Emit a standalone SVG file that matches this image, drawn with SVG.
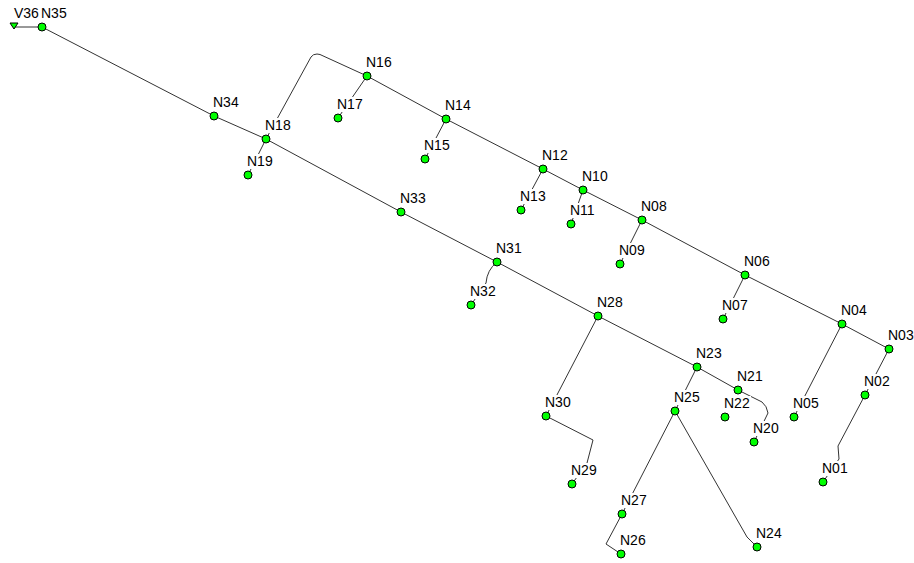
<svg xmlns="http://www.w3.org/2000/svg" width="914" height="563" viewBox="0 0 914 563">
<style>
.pipe{fill:none;stroke:#333;stroke-width:1}
.nd{fill:#00ff00;stroke:#000;stroke-width:1}
.bg{fill:#fff}
.lbl{font-family:"Liberation Sans",Arial,sans-serif;font-size:14px;fill:#000}
</style>
<rect width="914" height="563" fill="#fff"/>
<g id="connectors">
<path class="pipe" d="M14,27 L42,27"/>
<path class="pipe" d="M42,27 L214,116"/>
<path class="pipe" d="M214,116 L266,139"/>
<path class="pipe" d="M266,139 L248,175"/>
<path class="pipe" d="M266,139 L311,57 Q313,54 317,54 L320,54.5 L367,76"/>
<path class="pipe" d="M367,76 L338,118"/>
<path class="pipe" d="M367,76 L446,119"/>
<path class="pipe" d="M446,119 L425,159"/>
<path class="pipe" d="M446,119 L543,169"/>
<path class="pipe" d="M543,169 L521,210"/>
<path class="pipe" d="M543,169 L583,190"/>
<path class="pipe" d="M583,190 L571,224"/>
<path class="pipe" d="M583,190 L642,220"/>
<path class="pipe" d="M642,220 L620,264"/>
<path class="pipe" d="M642,220 L745,275"/>
<path class="pipe" d="M745,275 L723,319"/>
<path class="pipe" d="M745,275 L842,324"/>
<path class="pipe" d="M842,324 L794,417"/>
<path class="pipe" d="M842,324 L889,349"/>
<path class="pipe" d="M889,349 L865,395"/>
<path class="pipe" d="M865,395 L838,446 L839,459 L823,482"/>
<path class="pipe" d="M266,139 L401,212"/>
<path class="pipe" d="M401,212 L497,262"/>
<path class="pipe" d="M497,262 Q487,270 486,283 L471,305"/>
<path class="pipe" d="M497,262 L598,316"/>
<path class="pipe" d="M598,316 L546,416"/>
<path class="pipe" d="M546,416 L593,440 L587,463 L572,484"/>
<path class="pipe" d="M598,316 L697,367"/>
<path class="pipe" d="M697,367 L675,411"/>
<path class="pipe" d="M675,411 L622,514"/>
<path class="pipe" d="M622,514 L606,544 L621,554"/>
<path class="pipe" d="M675,411 L747,537 L757,547"/>
<path class="pipe" d="M697,367 L738,390"/>
<path class="pipe" d="M738,390 L762,402 Q767,406 768,413 L754,442"/>
</g>
<g id="V36"><rect class="bg" x="14" y="6" width="27" height="15"/><text class="lbl" x="14" y="18">V36</text><polygon class="nd" points="10,23 18,23 14,29"/></g>
<g id="N35"><rect class="bg" x="41" y="6" width="27" height="15"/><text class="lbl" x="41" y="18">N35</text><circle class="nd" cx="42" cy="27" r="4"/></g>
<g id="N34"><rect class="bg" x="213" y="95" width="27" height="15"/><text class="lbl" x="213" y="107">N34</text><circle class="nd" cx="214" cy="116" r="4"/></g>
<g id="N18"><rect class="bg" x="265" y="118" width="27" height="15"/><text class="lbl" x="265" y="130">N18</text><circle class="nd" cx="266" cy="139" r="4"/></g>
<g id="N19"><rect class="bg" x="247" y="154" width="27" height="15"/><text class="lbl" x="247" y="166">N19</text><circle class="nd" cx="248" cy="175" r="4"/></g>
<g id="N16"><rect class="bg" x="366" y="55" width="27" height="15"/><text class="lbl" x="366" y="67">N16</text><circle class="nd" cx="367" cy="76" r="4"/></g>
<g id="N17"><rect class="bg" x="337" y="97" width="27" height="15"/><text class="lbl" x="337" y="109">N17</text><circle class="nd" cx="338" cy="118" r="4"/></g>
<g id="N14"><rect class="bg" x="445" y="98" width="27" height="15"/><text class="lbl" x="445" y="110">N14</text><circle class="nd" cx="446" cy="119" r="4"/></g>
<g id="N15"><rect class="bg" x="424" y="138" width="27" height="15"/><text class="lbl" x="424" y="150">N15</text><circle class="nd" cx="425" cy="159" r="4"/></g>
<g id="N12"><rect class="bg" x="542" y="148" width="27" height="15"/><text class="lbl" x="542" y="160">N12</text><circle class="nd" cx="543" cy="169" r="4"/></g>
<g id="N13"><rect class="bg" x="520" y="189" width="27" height="15"/><text class="lbl" x="520" y="201">N13</text><circle class="nd" cx="521" cy="210" r="4"/></g>
<g id="N10"><rect class="bg" x="582" y="169" width="27" height="15"/><text class="lbl" x="582" y="181">N10</text><circle class="nd" cx="583" cy="190" r="4"/></g>
<g id="N11"><rect class="bg" x="570" y="203" width="27" height="15"/><text class="lbl" x="570" y="215">N11</text><circle class="nd" cx="571" cy="224" r="4"/></g>
<g id="N08"><rect class="bg" x="641" y="199" width="27" height="15"/><text class="lbl" x="641" y="211">N08</text><circle class="nd" cx="642" cy="220" r="4"/></g>
<g id="N09"><rect class="bg" x="619" y="243" width="27" height="15"/><text class="lbl" x="619" y="255">N09</text><circle class="nd" cx="620" cy="264" r="4"/></g>
<g id="N06"><rect class="bg" x="744" y="254" width="27" height="15"/><text class="lbl" x="744" y="266">N06</text><circle class="nd" cx="745" cy="275" r="4"/></g>
<g id="N07"><rect class="bg" x="722" y="298" width="27" height="15"/><text class="lbl" x="722" y="310">N07</text><circle class="nd" cx="723" cy="319" r="4"/></g>
<g id="N04"><rect class="bg" x="841" y="303" width="27" height="15"/><text class="lbl" x="841" y="315">N04</text><circle class="nd" cx="842" cy="324" r="4"/></g>
<g id="N05"><rect class="bg" x="793" y="396" width="27" height="15"/><text class="lbl" x="793" y="408">N05</text><circle class="nd" cx="794" cy="417" r="4"/></g>
<g id="N03"><rect class="bg" x="888" y="328" width="26" height="15"/><text class="lbl" x="888" y="340">N03</text><circle class="nd" cx="889" cy="349" r="4"/></g>
<g id="N02"><rect class="bg" x="864" y="374" width="27" height="15"/><text class="lbl" x="864" y="386">N02</text><circle class="nd" cx="865" cy="395" r="4"/></g>
<g id="N01"><rect class="bg" x="822" y="461" width="27" height="15"/><text class="lbl" x="822" y="473">N01</text><circle class="nd" cx="823" cy="482" r="4"/></g>
<g id="N33"><rect class="bg" x="400" y="191" width="27" height="15"/><text class="lbl" x="400" y="203">N33</text><circle class="nd" cx="401" cy="212" r="4"/></g>
<g id="N31"><rect class="bg" x="496" y="241" width="27" height="15"/><text class="lbl" x="496" y="253">N31</text><circle class="nd" cx="497" cy="262" r="4"/></g>
<g id="N32"><rect class="bg" x="470" y="284" width="27" height="15"/><text class="lbl" x="470" y="296">N32</text><circle class="nd" cx="471" cy="305" r="4"/></g>
<g id="N28"><rect class="bg" x="597" y="295" width="27" height="15"/><text class="lbl" x="597" y="307">N28</text><circle class="nd" cx="598" cy="316" r="4"/></g>
<g id="N30"><rect class="bg" x="545" y="395" width="27" height="15"/><text class="lbl" x="545" y="407">N30</text><circle class="nd" cx="546" cy="416" r="4"/></g>
<g id="N29"><rect class="bg" x="571" y="463" width="27" height="15"/><text class="lbl" x="571" y="475">N29</text><circle class="nd" cx="572" cy="484" r="4"/></g>
<g id="N23"><rect class="bg" x="696" y="346" width="27" height="15"/><text class="lbl" x="696" y="358">N23</text><circle class="nd" cx="697" cy="367" r="4"/></g>
<g id="N25"><rect class="bg" x="674" y="390" width="27" height="15"/><text class="lbl" x="674" y="402">N25</text><circle class="nd" cx="675" cy="411" r="4"/></g>
<g id="N27"><rect class="bg" x="621" y="493" width="27" height="15"/><text class="lbl" x="621" y="505">N27</text><circle class="nd" cx="622" cy="514" r="4"/></g>
<g id="N26"><rect class="bg" x="620" y="533" width="27" height="15"/><text class="lbl" x="620" y="545">N26</text><circle class="nd" cx="621" cy="554" r="4"/></g>
<g id="N24"><rect class="bg" x="756" y="526" width="27" height="15"/><text class="lbl" x="756" y="538">N24</text><circle class="nd" cx="757" cy="547" r="4"/></g>
<g id="N21"><rect class="bg" x="737" y="369" width="27" height="15"/><text class="lbl" x="737" y="381">N21</text><circle class="nd" cx="738" cy="390" r="4"/></g>
<g id="N22"><rect class="bg" x="724" y="396" width="27" height="15"/><text class="lbl" x="724" y="408">N22</text><circle class="nd" cx="725" cy="417" r="4"/></g>
<g id="N20"><rect class="bg" x="753" y="421" width="27" height="15"/><text class="lbl" x="753" y="433">N20</text><circle class="nd" cx="754" cy="442" r="4"/></g>
</svg>
